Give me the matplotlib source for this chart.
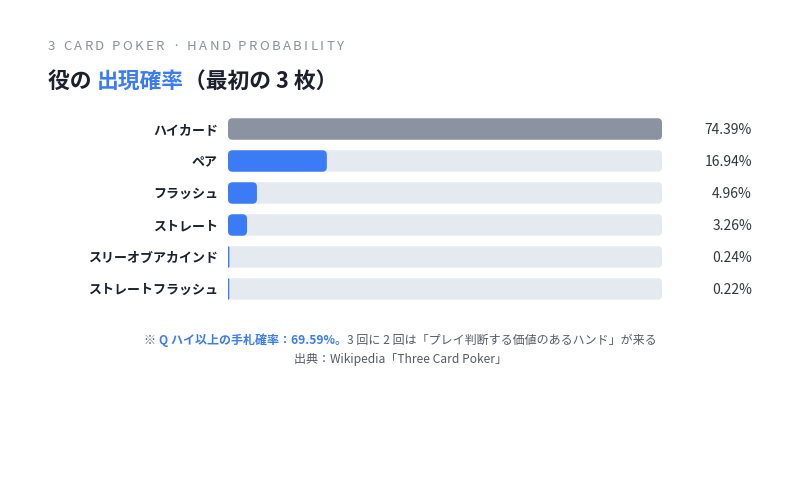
import matplotlib
matplotlib.use("Agg")
import matplotlib.pyplot as plt
from matplotlib.patches import FancyBboxPatch
from matplotlib import transforms

plt.rcParams["font.family"] = ["Noto Sans CJK JP", "DejaVu Sans"]

# data
hands = ["ハイカード", "ペア", "フラッシュ", "ストレート", "スリーオブアカインド", "ストレートフラッシュ"]
probs = [74.39, 16.94, 4.96, 3.26, 0.24, 0.22]
pct_labels = ["74.39%", "16.94%", "4.96%", "3.26%", "0.24%", "0.22%"]

BLUE = "#3b7bf6"
GRAY_BAR = "#8b93a3"
TRACK = "#e5e9f0"
DARK = "#1c1f2e"
MUTED = "#8a909c"
NOTE = "#555a66"

W, H = 800, 500
fig = plt.figure(figsize=(8, 5), dpi=100)
fig.patch.set_facecolor("white")
renderer = fig.canvas.get_renderer()


def text_row(pieces, x_px, y_px, align="left", tracking=0.0):
    """Place styled text pieces side by side; x/y in pixels from top-left."""
    arts = []
    for txt, kw in pieces:
        arts.append(fig.text(0, 1 - y_px / H, txt, ha="left", va="center", **kw))
    widths = [a.get_window_extent(renderer).width for a in arts]
    total = sum(widths) + tracking * max(0, len(arts) - 1)
    x = x_px - total / 2 if align == "center" else x_px
    for a, w in zip(arts, widths):
        a.set_x(x / W)
        x += w + tracking
    return arts


# subtitle with letter spacing
sub = "3 CARD POKER · HAND PROBABILITY"
text_row([(c, dict(fontsize=9.5, color=MUTED)) for c in sub], 48, 46, tracking=2.35)

# title
TITLE_FS = 15.7
text_row([
    ("役の ", dict(fontsize=TITLE_FS, fontweight="bold", color=DARK)),
    ("出現確率", dict(fontsize=TITLE_FS, fontweight="bold", color=BLUE)),
    ("（最初の 3 枚）", dict(fontsize=TITLE_FS, fontweight="bold", color=DARK)),
], 48, 81)

# bars
ax = fig.add_axes([228 / W, 1 - 305 / H, 434 / W, 192 / H])
vmax = max(probs)
ax.set_xlim(0, vmax)
ax.set_ylim(len(hands) - 0.5, -0.5)
ax.axis("off")

bar_h = 0.67
px_x = vmax / 434.0   # data units per pixel, x
px_y = 6.0 / 192.0    # data units per pixel, y
aspect = px_y / px_x
radius = 4.5 * px_x

for i, (name, p, lab) in enumerate(zip(hands, probs, pct_labels)):
    track = FancyBboxPatch((0, i - bar_h / 2), vmax, bar_h,
                           boxstyle=f"round,pad=0,rounding_size={radius}",
                           mutation_aspect=aspect, facecolor=TRACK, edgecolor="none")
    ax.add_patch(track)
    r = min(radius, p / 2)
    color = GRAY_BAR if i == 0 else BLUE
    bar = FancyBboxPatch((0, i - bar_h / 2), p, bar_h,
                         boxstyle=f"round,pad=0,rounding_size={r}",
                         mutation_aspect=aspect, facecolor=color, edgecolor="none")
    ax.add_patch(bar)

blend = transforms.blended_transform_factory(fig.transFigure, ax.transData)
for i, (name, lab) in enumerate(zip(hands, pct_labels)):
    fig.text(218 / W, i + 0.03, name, transform=blend, ha="right", va="center",
             fontsize=9.35, fontweight="bold", color=DARK)
    fig.text(752 / W, i + 0.03, lab, transform=blend, ha="right", va="center",
             fontsize=10, color="#333640")

# footnote
NOTE_FS = 8.65
text_row([
    ("※ ", dict(fontsize=NOTE_FS, color=NOTE)),
    ("Q ハイ以上の手札確率：69.59%。", dict(fontsize=NOTE_FS, fontweight="bold", color=BLUE)),
    ("3 回に 2 回は「プレイ判断する価値のあるハンド」が来る", dict(fontsize=NOTE_FS, color=NOTE)),
], 400, 340, align="center")
text_row([
    ("出典：Wikipedia「Three Card Poker」", dict(fontsize=NOTE_FS, color=NOTE)),
], 400, 359, align="center")

fig.savefig("out.png", dpi=100, facecolor="white")
